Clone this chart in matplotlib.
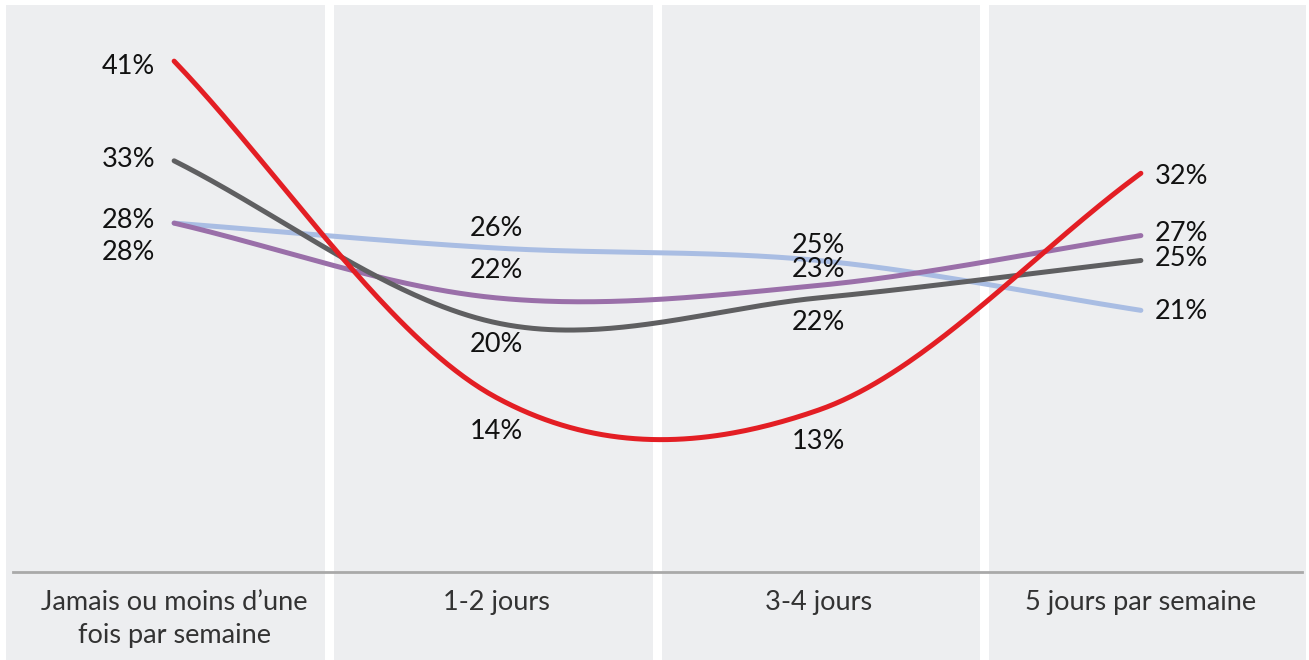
import numpy as np
import matplotlib
matplotlib.use("Agg")
import matplotlib.pyplot as plt
from matplotlib import transforms
from matplotlib.patches import Rectangle

plt.rcParams['font.family'] = ['Lato', 'DejaVu Sans']

categories = ["Jamais ou moins d\u2019une\nfois par semaine", "1-2 jours",
              "3-4 jours", "5 jours par semaine"]
serie_rouge = [41, 14, 13, 32]
serie_grise = [33, 20, 22, 25]
serie_bleue = [28, 26, 25, 21]
serie_violette = [28, 22, 23, 27]

colors = {'rouge': '#E31E24', 'grise': '#5F5F61',
          'bleue': '#A9BDE3', 'violette': '#9A6FA9'}

# label offsets in pixels (dx, dy) per category
offs_rouge = [(-19, -5), (0, -34), (0, -31), (14, -3)]
offs_grise = [(-19, 1), (0, -22), (0, -25), (14, 2)]
offs_bleue = [(-19, 3), (0, 20), (0, 15), (14, -1)]
offs_violette = [(-19, -29), (0, 27), (0, 16), (14, 2)]


def smooth(vals, n=80):
    # catmull-rom style smoothing like the office charts
    y = np.asarray(vals, dtype=float)
    k = len(y)
    m = np.zeros(k)
    m[1:-1] = (y[2:] - y[:-2]) / 2
    m[0] = y[1] - y[0]
    m[-1] = y[-1] - y[-2]
    xs, ys = [], []
    t = np.linspace(0, 1, n)
    h00 = 2*t**3 - 3*t**2 + 1
    h10 = t**3 - 2*t**2 + t
    h01 = -2*t**3 + 3*t**2
    h11 = t**3 - t**2
    for i in range(k - 1):
        xs.append(i + t)
        ys.append(h00*y[i] + h10*m[i] + h01*y[i+1] + h11*m[i+1])
    return np.concatenate(xs), np.concatenate(ys)


W, H = 1309, 660
fig = plt.figure(figsize=(W/100, H/100), dpi=100)
fig.patch.set_facecolor('white')
ax = fig.add_axes([13/W, (H-572)/H, (1302-13)/W, (572-5)/H])
ax.set_facecolor('none')
ax.set_xlim(-0.5, 3.5)
ax.set_ylim(0, 567/12.46)

# grey panels behind each category, running down through the label area
trans = transforms.blended_transform_factory(ax.transData, fig.transFigure)
unit = (1302-13)/4
gap = 4.5/unit
edges = [-0.5 - 7/unit, 0.482, 1.5, 2.516, 3.5 + 4/unit]
for i in range(len(categories)):
    left = edges[i] + (gap if i > 0 else 0)
    right = edges[i+1] - (gap if i < len(categories) - 1 else 0)
    ax.add_patch(Rectangle((left, 0), right-left, (H-5)/H, transform=trans,
                           facecolor='#EDEEF0', edgecolor='none', zorder=0,
                           clip_on=False))

series = [('bleue', serie_bleue, offs_bleue),
          ('violette', serie_violette, offs_violette),
          ('grise', serie_grise, offs_grise),
          ('rouge', serie_rouge, offs_rouge)]

for z, (name, vals, offs) in enumerate(series):
    xs, ys = smooth(vals)
    ax.plot(xs, ys, color=colors[name], lw=3.6, solid_capstyle='round', zorder=3+z)
    for i, v in enumerate(vals):
        ha = 'center'
        if i == 0:
            ha = 'right'
        elif i == len(vals) - 1:
            ha = 'left'
        ax.annotate(f"{v}%", (i, v), xytext=offs[i], textcoords='offset pixels',
                    ha=ha, va='center', fontsize=19.5, color='#111111', zorder=10)

for s in ['top', 'right', 'left']:
    ax.spines[s].set_visible(False)
ax.spines['bottom'].set_color('#A9A9A9')
ax.spines['bottom'].set_linewidth(2)
ax.set_yticks([])
ax.set_xticks(range(len(categories)))
ax.set_xticklabels(categories, fontsize=19.5, color='#333333', linespacing=1.4)
ax.tick_params(axis='x', length=0, pad=13)

fig.savefig('out.png', dpi=100)
